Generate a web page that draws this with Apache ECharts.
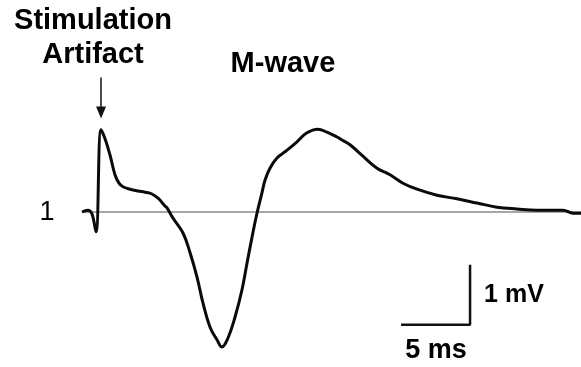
<!DOCTYPE html>
<html>
<head>
<meta charset="utf-8">
<script src="https://cdn.jsdelivr.net/npm/echarts@6/dist/echarts.min.js"></script>
<style>html,body{margin:0;padding:0;background:#fff;}#c{width:581px;height:367px;}</style>
</head>
<body>
<div id="c"></div>
<script>
// time in ms (from stimulus), voltage in mV (relative to baseline)
const timeMs = [0, 0.43, 0.72, 1.01, 1.38, 1.67, 2.03, 2.39, 2.68, 2.97, 3.48, 4.06, 4.57, 5.07, 5.51, 6.01, 6.16, 6.59, 7.32, 7.83, 8.33, 8.77, 9.28, 9.78, 10.14, 10.58, 11.09, 11.59, 11.96, 12.32, 12.68, 13.04, 13.26, 13.62, 14.13, 14.86, 15.58, 16.30, 17.10, 17.75, 18.48, 18.84, 19.42, 20.36, 21.38, 22.32, 23.26, 24.28, 25.72, 27.17, 28.62, 30.07, 31.52, 32.97, 34.86, 35.58, 36.16];
const voltageMv = [0, 0.03, -0.03, -0.33, 1.37, 1.22, 0.95, 0.62, 0.48, 0.42, 0.38, 0.35, 0.33, 0.30, 0.23, 0.10, 0.07, -0.10, -0.35, -0.68, -1.08, -1.52, -1.92, -2.13, -2.25, -2.10, -1.75, -1.30, -0.85, -0.42, -0.02, 0.32, 0.53, 0.73, 0.90, 1.03, 1.17, 1.32, 1.38, 1.33, 1.25, 1.20, 1.12, 0.93, 0.73, 0.62, 0.48, 0.38, 0.28, 0.22, 0.15, 0.08, 0.05, 0.03, 0.03, -0.02, -0.02];
const baselineT = [0, 36.16];
const scaleBarT = [23.12, 28.12, 28.12];
const scaleBarV = [-1.88, -1.88, -0.88];
const arrowT = [1.38, 1.38];
const arrowV = [2.24, 1.66];
const labels = { artifact1: 'Stimulation', artifact2: 'Artifact', mwave: 'M-wave', trace: '1', mv: '1 mV', ms: '5 ms' };

const wave = timeMs.map((t, i) => [t, voltageMv[i]]);
const base = baselineT.map(t => [t, 0]);
const bar = scaleBarT.map((t, i) => [t, scaleBarV[i]]);

const chart = echarts.init(document.getElementById('c'), null, { renderer: 'canvas' });
const font = '"Liberation Sans", Arial, Helvetica, sans-serif';
chart.setOption({
  animation: false,
  backgroundColor: '#fff',
  grid: { left: 82, right: 0, top: 0, bottom: 0 },
  xAxis: { type: 'value', min: 0, max: 36.16, show: false },
  yAxis: { type: 'value', min: -2.583, max: 3.533, show: false },
  series: [
    { type: 'line', data: base, symbol: 'none', silent: true,
      lineStyle: { color: '#8a8a8a', width: 1.5 }, z: 1 },
    { type: 'line', data: wave, symbol: 'none', smooth: 0.4,
      lineStyle: { color: '#0a0a0a', width: 3 }, z: 3,
      markLine: {
        silent: true, symbol: ['none', 'triangle'], symbolSize: [10, 12],
        label: { show: false },
        lineStyle: { color: '#111', width: 1.5, type: 'solid' },
        data: [[{ coord: [arrowT[0], arrowV[0]] }, { coord: [arrowT[1], arrowV[1]] }]]
      } },
    { type: 'line', data: bar, symbol: 'none', silent: true,
      lineStyle: { color: '#111', width: 2.5 }, z: 2 }
  ],
  graphic: [
    { type: 'text', x: 93, y: 21, style: { text: labels.artifact1, font: 'bold 29px ' + font, fill: '#000', align: 'center', verticalAlign: 'middle' } },
    { type: 'text', x: 93, y: 55, style: { text: labels.artifact2, font: 'bold 29px ' + font, fill: '#000', align: 'center', verticalAlign: 'middle' } },
    { type: 'text', x: 283, y: 64, style: { text: labels.mwave, font: 'bold 29px ' + font, fill: '#000', align: 'center', verticalAlign: 'middle' } },
    { type: 'text', x: 47, y: 213, style: { text: labels.trace, font: '27px ' + font, fill: '#000', align: 'center', verticalAlign: 'middle' } },
    { type: 'text', x: 514, y: 295, style: { text: labels.mv, font: 'bold 25px ' + font, fill: '#000', align: 'center', verticalAlign: 'middle' } },
    { type: 'text', x: 436, y: 351, style: { text: labels.ms, font: 'bold 27px ' + font, fill: '#000', align: 'center', verticalAlign: 'middle' } }
  ]
});
</script>
</body>
</html>
